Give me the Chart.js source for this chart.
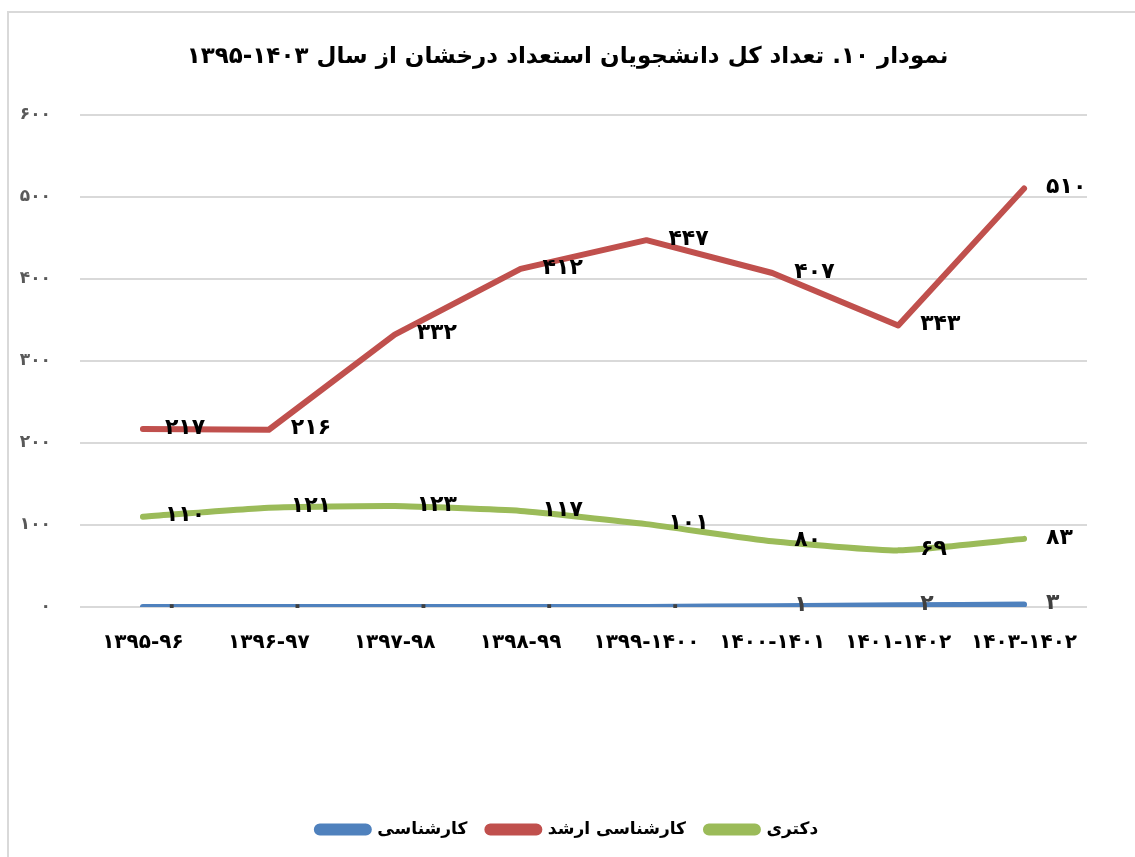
<!DOCTYPE html>
<html lang="fa">
<head>
  <meta charset="UTF-8">
  <title>نمودار ۱۰</title>
  <script src="https://cdn.jsdelivr.net/npm/chart.js"></script>
  <style>
    html, body { margin: 0; background: #fff; overflow: hidden; width: 1135px; height: 857px; }
    #frame { position: absolute; left: 7px; top: 11px; width: 1140px; height: 860px;
             border-left: 2px solid #d9d9d9; border-top: 2px solid #d9d9d9; }
    #chart { position: absolute; left: 0; top: 0; }
  </style>
</head>
<body>
  <div id="frame"></div>
  <canvas id="chart" width="1135" height="857" dir="rtl"></canvas>

  <script>
    const years = ['۱۳۹۵-۹۶', '۱۳۹۶-۹۷', '۱۳۹۷-۹۸', '۱۳۹۸-۹۹', '۱۳۹۹-۱۴۰۰', '۱۴۰۰-۱۴۰۱', '۱۴۰۱-۱۴۰۲', '۱۴۰۳-۱۴۰۲'];
    const bachelor = [0, 0, 0, 0, 0, 1, 2, 3];
    const master = [217, 216, 332, 412, 447, 407, 343, 510];
    const phd = [110, 121, 123, 117, 101, 80, 69, 83];
    const yTicks = [0, 100, 200, 300, 400, 500, 600];

    const font = 'DejaVu Sans';
    const fa = n => String(n).replace(/\d/g, d => '۰۱۲۳۴۵۶۷۸۹'[d]);

    // value labels to the right of each point, like the Excel ones
    const pointLabels = {
      id: 'pointLabels',
      afterDatasetsDraw(chart) {
        const ctx = chart.ctx;
        ctx.save();
        ctx.font = 'bold 22px "' + font + '"';
        ctx.textAlign = 'left';
        ctx.textBaseline = 'middle';
        chart.data.datasets.forEach((ds, i) => {
          ctx.fillStyle = i === 0 ? '#404040' : '#000';
          chart.getDatasetMeta(i).data.forEach((pt, j) => {
            ctx.fillText(fa(ds.data[j]), pt.x + 22, pt.y - 1);
          });
        });
        ctx.restore();
      }
    };

    const line = (label, data, color, tension) => ({
      label, data,
      borderColor: color, backgroundColor: color,
      borderWidth: 6, pointRadius: 0, tension,
      borderCapStyle: 'round', borderJoinStyle: 'round'
    });

    new Chart(document.getElementById('chart'), {
      type: 'line',
      data: {
        labels: years,
        datasets: [
          line('کارشناسی', bachelor, '#4f81bd', 0.15),
          line('کارشناسی ارشد', master, '#c0504d', 0),
          line('دکتری', phd, '#9bbb59', 0.15)
        ]
      },
      options: {
        responsive: false,
        animation: false,
        layout: { padding: { left: 0, right: 0, top: 0, bottom: 9 } },
        plugins: {
          title: {
            display: true,
            text: 'نمودار ۱۰. تعداد کل دانشجویان استعداد درخشان از سال ۱۴۰۳-۱۳۹۵',
            color: '#000',
            font: { family: font, size: 23, weight: 'bold' },
            padding: { top: 43, bottom: 44 }
          },
          legend: {
            position: 'bottom',
            labels: {
              color: '#000',
              font: { family: font, size: 17, weight: 'bold' },
              boxWidth: 52, boxHeight: 6,
              useBorderRadius: true, borderRadius: 3,
              padding: 20
            }
          },
          tooltip: { enabled: false }
        },
        scales: {
          x: {
            offset: true,
            grid: { display: false },
            border: { display: false },
            ticks: { color: '#000', font: { family: font, size: 20, weight: 'bold' }, padding: 16, maxRotation: 0, autoSkip: false },
            afterFit: s => { s.height = 194; }
          },
          y: {
            min: 0, max: 600,
            afterBuildTicks: s => { s.ticks = yTicks.map(v => ({ value: v })); },
            grid: { color: '#d9d9d9', lineWidth: 2, drawTicks: false },
            border: { display: false },
            ticks: { color: '#595959', font: { family: font, size: 17, weight: 'bold' }, padding: 29, callback: v => fa(v) },
            afterFit: s => { s.width = 80; }
          },
          // empty right margin, so the title and legend centre on the full width
          yRight: {
            position: 'right',
            min: 0, max: 600,
            grid: { display: false },
            border: { display: false },
            ticks: { display: false },
            afterFit: s => { s.width = 48; }
          }
        }
      },
      plugins: [pointLabels]
    });
  </script>
</body>
</html>
